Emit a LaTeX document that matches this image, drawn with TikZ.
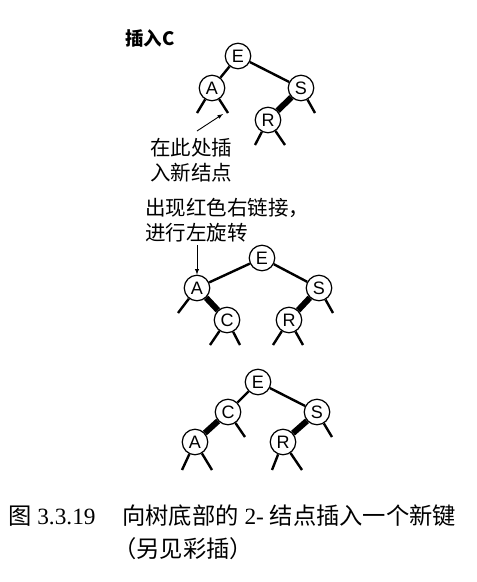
\documentclass[tikz,border=0pt]{standalone}
\usepackage{fontspec}
\setmainfont{Liberation Serif}
\setsansfont{Liberation Sans}
\newfontfamily\cjk{Noto Sans CJK SC}
\usetikzlibrary{arrows}
\tikzset{>=latex}
\tikzstyle{key}=[circle,draw,line width=1.2pt,minimum size=25.5pt,inner sep=0pt,fill=white,font=\sffamily\fontsize{18}{18}\selectfont]
\tikzstyle{link}=[line width=2.4pt]
\tikzstyle{red link}=[line width=6pt]
\tikzstyle{pointer}=[->,line width=0.9pt]
\tikzstyle{note}=[align=left,inner sep=0pt,font=\cjk\fontsize{20.5}{25}\selectfont]
\tikzstyle{caption}=[inner sep=0pt,font=\fontsize{23.3}{32}\selectfont]

\begin{document}
\begin{tikzpicture}[x=1pt,y=-1pt]
  \useasboundingbox (0,0) rectangle (477,582);
  % before the insertion
  \node[inner sep=0pt,anchor=west,font=\cjk\bfseries\fontsize{18.5}{18.5}\selectfont] (title) at (125,38) {插入C};
  \node[key] (E1) at (238,56) {E};
  \node[key] (A1) at (212,88) {A};
  \node[key] (S1) at (301,88) {S};
  \node[key] (R1) at (268,120) {R};
  \coordinate (A1l) at (197,113);
  \coordinate (A1r) at (228,113);
  \coordinate (S1r) at (315,113);
  \coordinate (R1l) at (255,145);
  \coordinate (R1r) at (285,145);
  \draw[link] (E1) -- (A1);
  \draw[link] (E1) -- (S1);
  \draw[red link] (S1) -- (R1);
  \draw[link] (A1) -- (A1l) (A1) -- (A1r) (S1) -- (S1r) (R1) -- (R1l) (R1) -- (R1r);
  \node[note,anchor=west] (here) at (150,160) {在此处插\\入新结点};
  \coordinate (here tail) at (197,131);
  \coordinate (here tip) at (223,114);
  \draw[pointer] (here tail) -- (here tip);

  % red right link
  \node[note,anchor=west] (rot) at (145,220) {出现红色右链接，\\进行左旋转};
  \node[key] (E2) at (262,258) {E};
  \node[key] (A2) at (197,288) {A};
  \node[key] (S2) at (319,288) {S};
  \node[key] (C2) at (227,320) {C};
  \node[key] (R2) at (289,320) {R};
  \coordinate (A2l) at (178,313);
  \coordinate (C2l) at (210,345);
  \coordinate (C2r) at (240,345);
  \coordinate (S2r) at (333,313);
  \coordinate (R2l) at (273,345);
  \coordinate (R2r) at (303,345);
  \draw[link] (E2) -- (A2);
  \draw[link] (E2) -- (S2);
  \draw[red link] (A2) -- (C2);
  \draw[red link] (S2) -- (R2);
  \draw[link] (A2) -- (A2l) (C2) -- (C2l) (C2) -- (C2r) (S2) -- (S2r) (R2) -- (R2l) (R2) -- (R2r);
  \coordinate (rot tail) at (197,245);
  \draw[pointer] (rot tail) -- (A2);

  % after the rotation
  \node[key] (E3) at (258,382) {E};
  \node[key] (C3) at (228,412) {C};
  \node[key] (S3) at (317,412) {S};
  \node[key] (A3) at (195,442) {A};
  \node[key] (R3) at (283,442) {R};
  \coordinate (C3r) at (245,437);
  \coordinate (S3r) at (332,437);
  \coordinate (A3l) at (182,470);
  \coordinate (A3r) at (212,470);
  \coordinate (R3l) at (272,470);
  \coordinate (R3r) at (302,470);
  \draw[link] (E3) -- (C3);
  \draw[link] (E3) -- (S3);
  \draw[red link] (C3) -- (A3);
  \draw[red link] (S3) -- (R3);
  \draw[link] (C3) -- (C3r) (S3) -- (S3r) (A3) -- (A3l) (A3) -- (A3r) (R3) -- (R3l) (R3) -- (R3r);

  % caption
  \node[caption,anchor=west] (fig) at (8,516) {{\cjk 图} 3.3.19};
  \node[caption,anchor=west] (text) at (122,516) {{\cjk 向树底部的} 2- {\cjk 结点插入一个新键}};
  \node[caption,anchor=west] (more) at (113,549) {{\cjk （另见彩插）}};
\end{tikzpicture}
\end{document}
